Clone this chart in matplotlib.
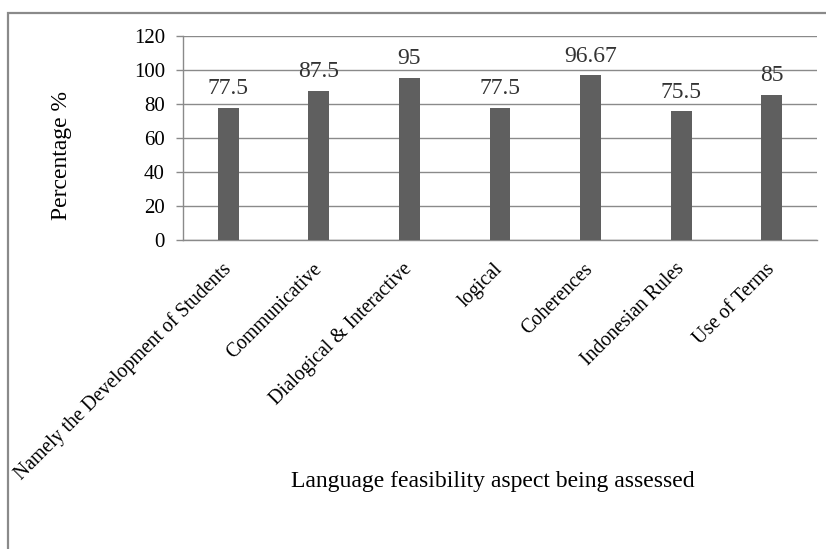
import matplotlib
matplotlib.use("Agg")
import matplotlib.pyplot as plt
from matplotlib.patches import Rectangle

categories = [
    "Namely the Development of Students",
    "Communicative",
    "Dialogical & Interactive",
    "logical",
    "Coherences",
    "Indonesian Rules",
    "Use of Terms",
]
values = [77.5, 87.5, 95, 77.5, 96.67, 75.5, 85]
value_labels = ["77.5", "87.5", "95", "77.5", "96.67", "75.5", "85"]
y_ticks = [0, 20, 40, 60, 80, 100, 120]

plt.rcParams["font.family"] = ["Liberation Serif", "DejaVu Serif"]

W, H = 826, 549
fig = plt.figure(figsize=(W / 100, H / 100), dpi=100)

# outer frame (only the left and top edges fall inside the canvas)
fig.patches.append(Rectangle((8 / W, -0.1), 1.2, 1 - 13 / H + 0.1,
                             transform=fig.transFigure, fill=False,
                             edgecolor="#8a8a8a", linewidth=1.6))

ax = fig.add_axes([183 / W, 1 - 240 / H, (817 - 183) / W, (240 - 35.7) / H])
x = range(len(categories))
ax.bar(x, values, width=0.23, color="#5f5f5f", zorder=3)

for xi, v, lab in zip(x, values, value_labels):
    ax.annotate(lab, (xi, v), xytext=(0, 10), textcoords="offset points",
                ha="center", va="baseline", fontsize=17, color="#333333")

ax.set_xlim(-0.5, len(categories) - 0.5)
ax.set_ylim(0, 120)
ax.set_yticks(y_ticks)
ax.tick_params(axis="y", length=5, width=1, color="#8a8a8a", pad=8,
               labelsize=15)
ax.set_xticks(list(x))
ax.set_xticklabels(categories, rotation=45, ha="right", va="center",
                   rotation_mode="anchor", fontsize=14.2)
ax.tick_params(axis="x", length=0, pad=19)

ax.grid(axis="y", color="#8a8a8a", linewidth=1, zorder=0)
for s in ["top", "right"]:
    ax.spines[s].set_visible(False)
for s in ["left", "bottom"]:
    ax.spines[s].set_color("#8a8a8a")
    ax.spines[s].set_linewidth(1)

ax.set_ylabel("Percentage %", fontsize=17)
ax.yaxis.set_label_coords((72 - 183) / 634, (240 - 155) / 204.3)
ax.set_xlabel("Language feasibility aspect being assessed", fontsize=17)
ax.xaxis.label.set_va("center")
ax.xaxis.set_label_coords((493 - 183) / 634, (240 - 482) / 204.3)

fig.savefig("out.png", dpi=100)
